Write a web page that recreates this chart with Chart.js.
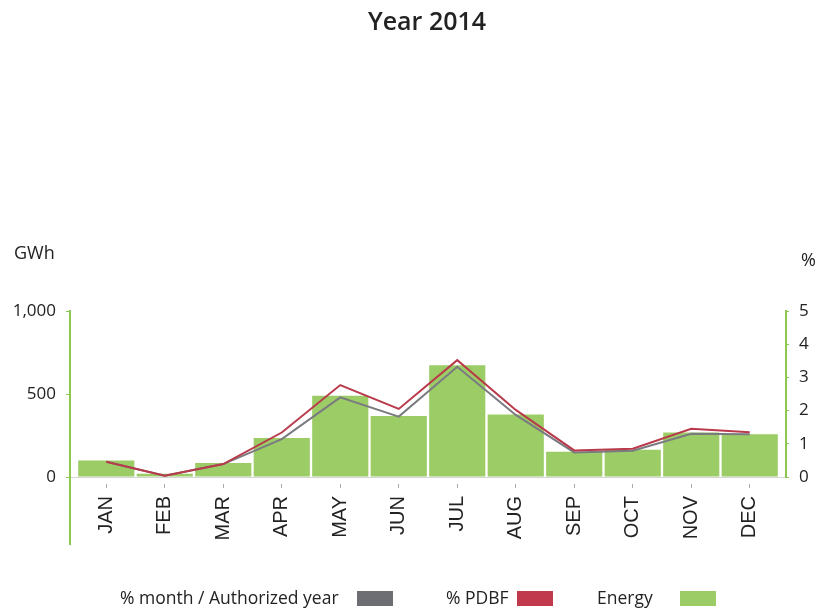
<!DOCTYPE html>
<html>
<head>
<meta charset="utf-8">
<script src="https://cdn.jsdelivr.net/npm/chart.js@4"></script>
<style>
    body { margin: 0; background: #fff; font-family: "Open Sans", sans-serif; color: #222; }
    #wrap { position: relative; width: 819px; height: 611px; }
    #c { position: absolute; left: 0; top: 0; }
    .lbl { position: absolute; white-space: nowrap; }
    #title { left: 0; width: 854px; top: 3px; text-align: center; font-size: 25px; font-weight: 600; }
    #unitL { left: 14px; top: 240px; font-size: 18px; }
    #unitR { left: 801px; top: 247px; font-size: 18px; }
    .leg { position: absolute; top: 586px; font-size: 17.5px; line-height: 22px; }
    .box { position: absolute; top: 591px; width: 36px; height: 15px; }
</style>
</head>
<body>
<div id="wrap">
    <canvas id="c" width="819" height="611"></canvas>
    <div class="lbl" id="title">Year 2014</div>
    <div class="lbl" id="unitL">GWh</div>
    <div class="lbl" id="unitR">%</div>
    <div class="leg" style="left:120px">% month / Authorized year</div>
    <div class="box" style="left:357px;background:#6d6e73"></div>
    <div class="leg" style="left:446px">% PDBF</div>
    <div class="box" style="left:517px;background:#c0394d"></div>
    <div class="leg" style="left:597px">Energy</div>
    <div class="box" style="left:680px;background:#9ccc65"></div>
</div>
<script>
/*
    monthly energy (GWh, left axis) and two percentage lines (right axis)
*/
const months = ["JAN", "FEB", "MAR", "APR", "MAY", "JUN", "JUL", "AUG", "SEP", "OCT", "NOV", "DEC"];
const energy = [100, 20, 85, 235, 489, 367, 673, 377, 152, 164, 268, 258];
const pctAuthorized = [0.46, 0.04, 0.39, 1.14, 2.40, 1.82, 3.32, 1.87, 0.74, 0.79, 1.30, 1.29];
const pctPdbf = [0.46, 0.04, 0.39, 1.34, 2.77, 2.05, 3.52, 2.02, 0.80, 0.85, 1.45, 1.35];

const green = "#9ccc65";
const axisGreen = "#8cc850";

// points on the linear x scale, one per month
function toPoints(values) {
    return values.map((v, i) => ({ x: i, y: v }));
}

// the left axis runs on below the zero line, past the month labels
const leftAxisTail = {
    id: "leftAxisTail",
    afterDraw(chart) {
        const ctx = chart.ctx;
        const a = chart.chartArea;
        ctx.save();
        ctx.strokeStyle = axisGreen;
        ctx.lineWidth = 2;
        ctx.beginPath();
        ctx.moveTo(a.left, a.bottom);
        ctx.lineTo(a.left, 545);
        ctx.stroke();
        ctx.restore();
    }
};

new Chart("c", {
    type: "bar",
    data: {
        datasets: [
            {
                type: "line",
                label: "% PDBF",
                data: toPoints(pctPdbf),
                yAxisID: "y1",
                borderColor: "#b83a4b",
                borderWidth: 2,
                pointRadius: 0,
                tension: 0,
                order: 0
            },
            {
                type: "line",
                label: "% month / Authorized year",
                data: toPoints(pctAuthorized),
                yAxisID: "y1",
                borderColor: "#7a7b80",
                borderWidth: 2,
                pointRadius: 0,
                tension: 0,
                order: 1
            },
            {
                label: "Energy",
                data: toPoints(energy),
                yAxisID: "y",
                backgroundColor: green,
                barPercentage: 0.96,
                categoryPercentage: 1,
                order: 2
            }
        ]
    },
    options: {
        responsive: false,
        animation: false,
        layout: { padding: { top: 311, left: 0, right: 0, bottom: 0 } },
        plugins: {
            legend: { display: false },
            tooltip: { enabled: false }
        },
        scales: {
            x: {
                type: "linear",
                min: -0.62,
                max: 11.62,
                offset: false,
                afterBuildTicks: s => { s.ticks = months.map((m, i) => ({ value: i })); },
                afterFit: s => { s.height = 134; },
                border: { color: "#d4d4d4", width: 1 },
                grid: {
                    offset: false,
                    drawOnChartArea: false,
                    tickLength: 11,
                    tickColor: "#aaaaaa",
                    tickBorderDash: [0, 6, 5, 100]
                },
                ticks: {
                    autoSkip: false,
                    minRotation: 90,
                    maxRotation: 90,
                    padding: 8,
                    color: "#222",
                    font: { family: "'Liberation Sans Narrow', 'Liberation Sans', sans-serif", size: 20 },
                    callback: v => months[v]
                }
            },
            y: {
                position: "left",
                min: 0,
                max: 1000,
                afterFit: s => { s.width = 70; },
                border: { color: axisGreen, width: 2 },
                grid: { drawOnChartArea: false, tickLength: 4, color: axisGreen },
                ticks: {
                    stepSize: 500,
                    padding: 10,
                    color: "#222",
                    font: { family: "'Open Sans', sans-serif", size: 17 }
                }
            },
            y1: {
                position: "right",
                min: 0,
                max: 5,
                afterFit: s => { s.width = 33; },
                border: { color: axisGreen, width: 2 },
                grid: { drawOnChartArea: false, tickLength: 3, color: axisGreen },
                ticks: {
                    stepSize: 1,
                    padding: 10,
                    color: "#222",
                    font: { family: "'Open Sans', sans-serif", size: 17 }
                }
            }
        }
    },
    plugins: [leftAxisTail]
});
</script>
</body>
</html>
